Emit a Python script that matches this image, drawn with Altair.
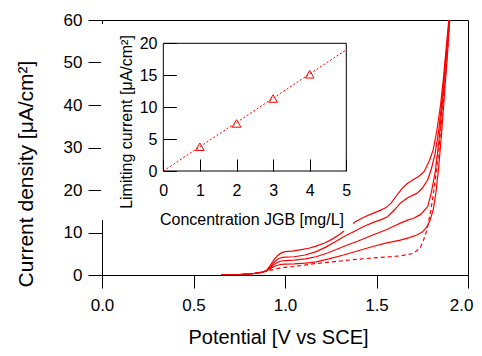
import altair as alt
import pandas as pd

# ---------------- main plot data (Potential V vs SCE, current density uA/cm2) -------------
pot_4mg = [0.65, 0.75, 0.82, 0.87, 0.90, 0.92, 0.94, 0.96, 0.98, 1.00, 1.04, 1.08, 1.13, 1.17, 1.22,
           1.26, 1.30, 1.34, 1.38, 1.43, 1.48, 1.52, 1.55, 1.58, 1.61, 1.64, 1.67, 1.70, 1.73, 1.76,
           1.79, 1.81, 1.83, 1.85, 1.865, 1.88, 1.895]
cur_4mg = [0.0, 0.1, 0.3, 0.6, 1.1, 2.3, 3.6, 4.6, 5.2, 5.5, 5.6, 5.9, 6.3, 6.8, 7.6,
           8.5, 9.6, 11.0, 12.4, 13.6, 14.5, 15.2, 15.8, 16.9, 18.7, 20.4, 21.6, 22.4, 23.2, 24.3,
           27.0, 29.5, 34.0, 40.0, 46.0, 53.0, 60.0]

pot_3mg = [0.65, 0.75, 0.82, 0.87, 0.90, 0.92, 0.94, 0.96, 0.98, 1.00, 1.05, 1.11, 1.17, 1.22, 1.27,
           1.32, 1.38, 1.43, 1.49, 1.53, 1.56, 1.60, 1.63, 1.67, 1.72, 1.75, 1.78, 1.80, 1.82, 1.84,
           1.855, 1.87, 1.885, 1.898]
cur_3mg = [0.0, 0.1, 0.3, 0.6, 1.0, 1.9, 3.0, 3.7, 4.1, 4.2, 4.3, 4.7, 5.5, 6.5, 7.7,
           9.0, 10.3, 11.4, 12.5, 13.1, 13.7, 15.4, 16.9, 18.2, 19.2, 20.4, 22.4, 25.0, 28.5, 34.0,
           40.0, 47.0, 54.0, 60.0]

pot_2mg = [0.65, 0.75, 0.82, 0.87, 0.90, 0.92, 0.94, 0.96, 0.98, 1.00, 1.05, 1.11, 1.17, 1.24, 1.32,
           1.40, 1.48, 1.55, 1.60, 1.63, 1.67, 1.70, 1.74, 1.78, 1.80, 1.82, 1.84, 1.855, 1.87, 1.885,
           1.898]
cur_2mg = [0.0, 0.1, 0.3, 0.6, 1.0, 1.7, 2.5, 3.0, 3.3, 3.4, 3.5, 3.8, 4.3, 5.3, 6.7,
           8.0, 9.4, 10.6, 11.6, 12.2, 12.9, 13.3, 14.2, 16.1, 19.5, 24.0, 31.0, 38.0, 45.5, 53.0,
           60.0]

pot_1mg = [0.65, 0.75, 0.82, 0.87, 0.90, 0.92, 0.94, 0.96, 0.98, 1.00, 1.05, 1.11, 1.17, 1.24, 1.32,
           1.40, 1.48, 1.55, 1.63, 1.68, 1.72, 1.75, 1.77, 1.79, 1.81, 1.825, 1.84, 1.855, 1.872, 1.888,
           1.90]
cur_1mg = [0.0, 0.1, 0.3, 0.6, 1.0, 1.5, 2.0, 2.3, 2.5, 2.55, 2.6, 2.8, 3.1, 3.8, 4.7,
           5.7, 6.7, 7.5, 8.2, 8.8, 9.4, 10.1, 11.0, 12.6, 15.3, 19.5, 25.5, 33.0, 43.0, 52.0,
           60.0]

pot_blank = [0.65, 0.75, 0.82, 0.87, 0.90, 0.93, 0.97, 1.00, 1.05, 1.15, 1.26, 1.37, 1.48, 1.57, 1.63,
             1.67, 1.70, 1.72, 1.74, 1.757, 1.775, 1.79, 1.80, 1.82, 1.84, 1.857, 1.873, 1.888, 1.90]
cur_blank = [0.0, 0.1, 0.3, 0.6, 0.9, 1.2, 1.6, 1.8, 2.0, 2.6, 3.1, 3.6, 4.0, 4.3, 4.5,
             4.8, 5.1, 5.7, 6.5, 8.2, 10.5, 13.7, 16.0, 22.0, 29.0, 37.0, 45.0, 53.0, 60.0]

# ---------------- inset data ----------------
conc = [1, 2, 3, 4]
ilim = [3.8, 7.45, 11.35, 15.15]
fit_conc = [0, 5]
fit_ilim = [0.0, 19.0]

main_x_ticks = [0.0, 0.5, 1.0, 1.5, 2.0]
main_y_ticks = [0, 10, 20, 30, 40, 50, 60]
inset_x_ticks = [0, 1, 2, 3, 4, 5]
inset_y_ticks = [0, 5, 10, 15, 20]

FONT = "Liberation Sans"
RED = "#ff0000"
W, H = 366, 255

# ---------------- tables ----------------
solid_df = pd.concat([
    pd.DataFrame({"V": pot_4mg, "I": cur_4mg, "curve": "4 mg/L"}),
    pd.DataFrame({"V": pot_3mg, "I": cur_3mg, "curve": "3 mg/L"}),
    pd.DataFrame({"V": pot_2mg, "I": cur_2mg, "curve": "2 mg/L"}),
    pd.DataFrame({"V": pot_1mg, "I": cur_1mg, "curve": "1 mg/L"}),
], ignore_index=True)
blank_df = pd.DataFrame({"V": pot_blank, "I": cur_blank})
pts_df = pd.DataFrame({"c": conc, "i": ilim})
fit_df = pd.DataFrame({"c": fit_conc, "i": fit_ilim})
frame_df = pd.DataFrame({"x0": [inset_x_ticks[0]], "x1": [inset_x_ticks[-1]],
                         "y0": [inset_y_ticks[0]], "y1": [inset_y_ticks[-1]]})
dummy = pd.DataFrame({"a": [0]})

# ---------------- scales ----------------
mx = alt.Scale(domain=[main_x_ticks[0], main_x_ticks[-1]], nice=False, zero=False)
my = alt.Scale(domain=[main_y_ticks[0], main_y_ticks[-1]], nice=False, zero=False)
ix = alt.Scale(domain=[inset_x_ticks[0], inset_x_ticks[-1]], range=[61.3, 244.3], nice=False, zero=False)
iy = alt.Scale(domain=[inset_y_ticks[0], inset_y_ticks[-1]], range=[151, 23.3], nice=False, zero=False)

last_x = "datum.value === %s" % main_x_ticks[-1]
main_x_axis = alt.Axis(values=main_x_ticks, format=".1f", tickSize=13, labelPadding=9,
                       labelFontSize=17, labelFlush=False, grid=False,
                       labelAlign={"condition": {"test": last_x, "value": "right"}, "value": "center"},
                       labelOffset={"condition": {"test": last_x, "value": 5}, "value": 0},
                       title="Potential [V vs SCE]", titleFontSize=20, titleX=176, titleY=62,
                       titleBaseline="middle", titleAlign="center")
main_y_axis = alt.Axis(values=main_y_ticks, tickSize=14, labelPadding=6, labelFontSize=17,
                       labelFlush=False, grid=False,
                       title="Current density [μA/cm²]", titleFontSize=21, titleAngle=270,
                       titleX=-76, titleY=153.5, titleBaseline="middle", titleAlign="center")

inset_x_axis = alt.Axis(orient="top", offset=-151, values=inset_x_ticks, tickSize=12,
                        labelPadding=-23, labelBaseline="top", labelFontSize=16, labelFlush=False,
                        domain=False, grid=False, zindex=1,
                        title="Concentration JGB [mg/L]", titleFontSize=16, titleX=149.5, titleY=48,
                        titleBaseline="middle", titleAlign="center")
inset_y_axis = alt.Axis(orient="right", offset=-304.7, values=inset_y_ticks, tickSize=13,
                        labelPadding=-19.3, labelAlign="right", labelFontSize=16, labelFlush=False,
                        domain=False, grid=False, zindex=1,
                        title="Limiting current [μA/cm²]", titleFontSize=16, titleAngle=270,
                        titleX=-37, titleY=101.5, titleBaseline="middle", titleAlign="center")

# ---------------- layers ----------------
solid = alt.Chart(solid_df).mark_line(color=RED, strokeWidth=1.2, clip=True).encode(
    x=alt.X("V:Q", scale=mx, axis=main_x_axis),
    y=alt.Y("I:Q", scale=my, axis=main_y_axis),
    detail="curve:N",
)
blank = alt.Chart(blank_df).mark_line(color=RED, strokeWidth=1.2, strokeDash=[4, 3], clip=True).encode(
    x=alt.X("V:Q", scale=mx, axis=None),
    y=alt.Y("I:Q", scale=my, axis=None),
)

white_bg = alt.Chart(dummy).mark_rect(fill="white", stroke=None).encode(
    x=alt.value(-1), x2=alt.value(251), y=alt.value(4), y2=alt.value(200))
white_gap = alt.Chart(dummy).mark_rect(fill="white", stroke=None).encode(
    x=alt.value(240), x2=alt.value(251), y=alt.value(190), y2=alt.value(211))

frame = alt.Chart(frame_df).mark_rect(fill="white", stroke="black", strokeWidth=1).encode(
    x=alt.X("x0:Q", scale=ix, axis=inset_x_axis), x2="x1:Q",
    y=alt.Y("y0:Q", scale=iy, axis=inset_y_axis), y2="y1:Q",
)
fit = alt.Chart(fit_df).mark_line(color=RED, strokeWidth=1, strokeDash=[2, 2]).encode(
    x=alt.X("c:Q", scale=ix, axis=None),
    y=alt.Y("i:Q", scale=iy, axis=None),
)
pts = alt.Chart(pts_df).mark_point(shape="triangle-up", size=75, filled=False, color=RED,
                                   strokeWidth=1, opacity=1).encode(
    x=alt.X("c:Q", scale=ix, axis=None),
    y=alt.Y("i:Q", scale=iy, axis=None),
)

chart = alt.layer(solid, blank, white_bg, white_gap, frame, fit, pts).resolve_scale(
    x="independent", y="independent"
).properties(
    width=W, height=H,
    autosize=alt.AutoSizeParams(type="none"),
    padding={"left": 94, "top": 12, "right": 6, "bottom": 73},
).configure_axis(
    labelFont=FONT, titleFont=FONT, labelColor="black", titleColor="black",
    titleFontWeight="normal", domainColor="black", tickColor="black",
    domainWidth=1, tickWidth=1,
).configure_view(stroke="black", strokeWidth=1)

chart.save("out.html", embed_options={"renderer": "svg", "actions": False})
